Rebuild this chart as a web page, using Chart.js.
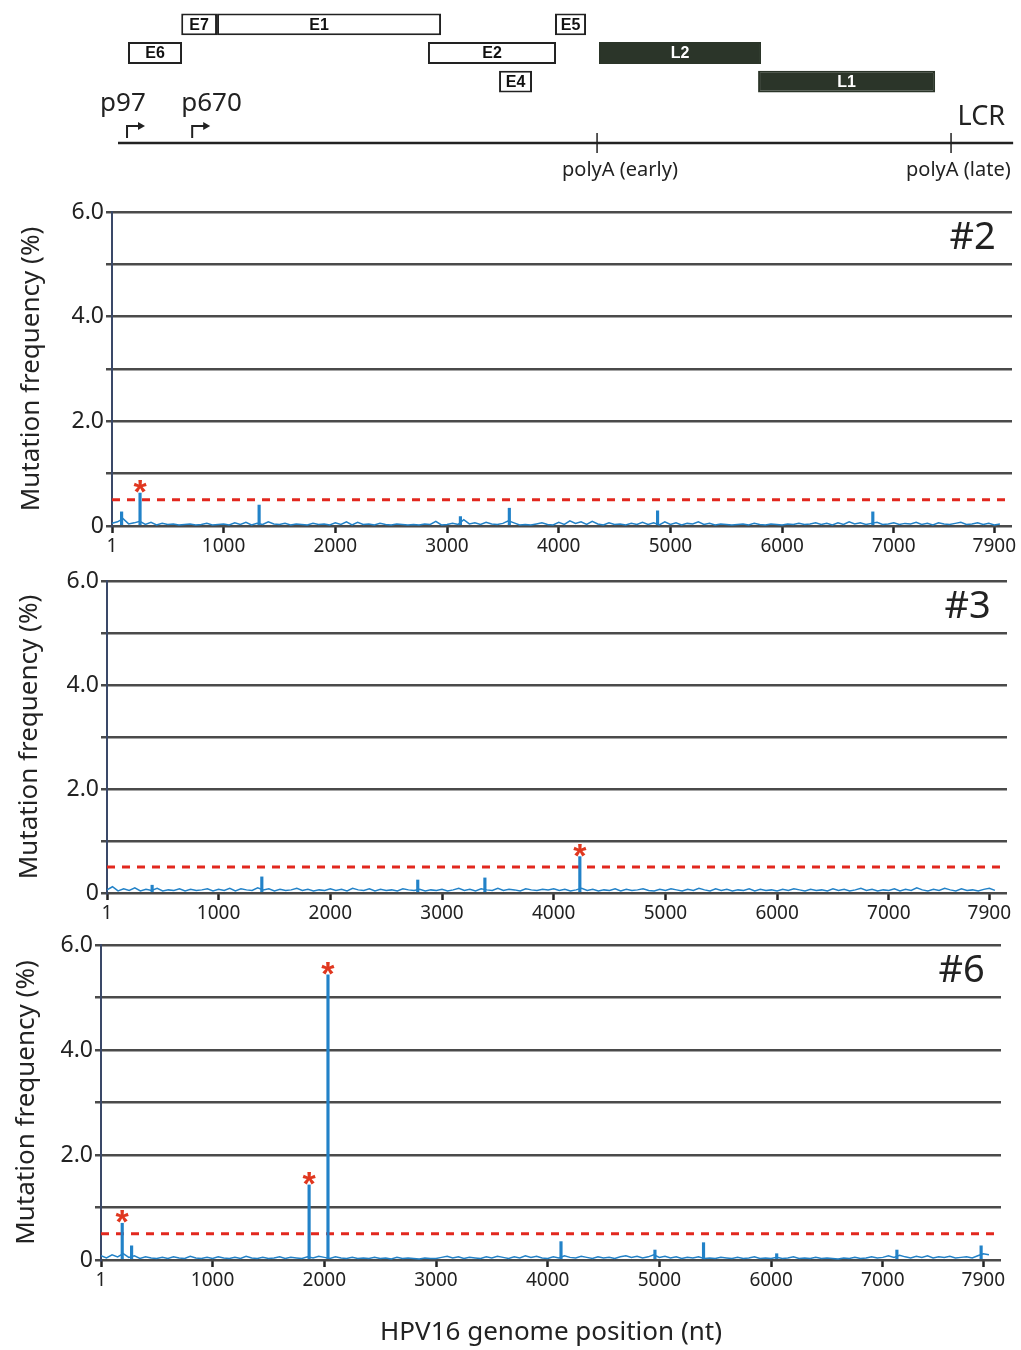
<!doctype html>
<html>
<head>
<meta charset="utf-8">
<title>HPV16 genome mutation frequency</title>
<script src="https://cdn.jsdelivr.net/npm/chart.js"></script>
<style>
  body { margin: 0; background: #fff; }
  #wrap { position: relative; width: 1021px; height: 1350px; overflow: hidden; }
  canvas { position: absolute; left: 0; }
</style>
</head>
<body>
<div id="wrap">
  <canvas id="map" width="1021" height="190" style="top:0"></canvas>
  <canvas id="p2" width="1021"></canvas>
  <canvas id="p3" width="1021"></canvas>
  <canvas id="p6" width="1021"></canvas>
</div>
<script>
// genome map (nt)
const geneNames = ['E6', 'E7', 'E1', 'E2', 'E4', 'E5', 'L2', 'L1']
const geneStart = [88, 556, 871, 2726, 3351, 3843, 4230, 5629]
const geneEnd = [563, 871, 2841, 3852, 3641, 4116, 5655, 7186]
const geneRow = [1, 0, 0, 1, 2, 0, 1, 2]
const geneLate = [false, false, false, false, false, false, true, true]
const promoterNames = ['p97', 'p670']
const promoterPos = [97, 670]
const polyAPos = [4213, 7326]
const polyALabels = ['polyA (early)', 'polyA (late)']

// x ticks of the frequency panels
const xTicks = [1, 1000, 2000, 3000, 4000, 5000, 6000, 7000, 7900]
const threshold = 0.5
const noiseStep = 50

// sample #2 (background, one value per 50 nt)
const noise2 = [
  0.05, 0.08, 0.14, 0.04, 0.06, 0.09, 0.03, 0.07, 0.02, 0.05, 0.03, 0.04, 0.02, 0.03, 0.04, 0.02, 0.03, 0.05, 0.02, 0.03,
  0.04, 0.02, 0.06, 0.03, 0.07, 0.02, 0.05, 0.03, 0.08, 0.04, 0.03, 0.05, 0.02, 0.04, 0.03, 0.02, 0.05, 0.03, 0.04, 0.02,
  0.06, 0.03, 0.08, 0.02, 0.07, 0.03, 0.04, 0.02, 0.05, 0.03, 0.02, 0.04, 0.03, 0.02, 0.03, 0.02, 0.04, 0.03, 0.09, 0.02,
  0.03, 0.05, 0.03, 0.12, 0.04, 0.06, 0.03, 0.07, 0.04, 0.03, 0.05, 0.10, 0.06, 0.02, 0.03, 0.02, 0.04, 0.06, 0.03, 0.02,
  0.07, 0.03, 0.10, 0.05, 0.08, 0.03, 0.09, 0.04, 0.02, 0.06, 0.03, 0.04, 0.02, 0.05, 0.03, 0.07, 0.03, 0.06, 0.02, 0.08,
  0.03, 0.06, 0.02, 0.05, 0.04, 0.08, 0.03, 0.05, 0.02, 0.04, 0.03, 0.02, 0.03, 0.04, 0.02, 0.05, 0.03, 0.02, 0.04, 0.03,
  0.02, 0.04, 0.03, 0.05, 0.03, 0.04, 0.06, 0.03, 0.05, 0.02, 0.06, 0.03, 0.08, 0.04, 0.06, 0.03, 0.05, 0.07, 0.03, 0.04,
  0.06, 0.03, 0.05, 0.04, 0.07, 0.03, 0.05, 0.02, 0.06, 0.04, 0.03, 0.05, 0.07, 0.03, 0.04, 0.06, 0.03, 0.05, 0.02, 0.04,
]
const spikePos2 = [87, 252, 1318, 3120, 3558, 4885, 6812]
const spikeVal2 = [0.27, 0.63, 0.40, 0.18, 0.34, 0.29, 0.27]
const stars2 = [252]

// sample #3
const noise3 = [
  0.06, 0.12, 0.04, 0.08, 0.05, 0.10, 0.04, 0.07, 0.05, 0.09, 0.04, 0.06, 0.05, 0.08, 0.04, 0.07, 0.05, 0.06, 0.08, 0.04,
  0.07, 0.05, 0.09, 0.04, 0.08, 0.06, 0.05, 0.10, 0.06, 0.08, 0.04, 0.07, 0.05, 0.06, 0.09, 0.05, 0.07, 0.04, 0.06, 0.05,
  0.08, 0.05, 0.07, 0.04, 0.09, 0.06, 0.05, 0.08, 0.04, 0.07, 0.05, 0.06, 0.04, 0.08, 0.06, 0.05, 0.07, 0.04, 0.06, 0.05,
  0.07, 0.04, 0.06, 0.09, 0.05, 0.07, 0.04, 0.08, 0.06, 0.05, 0.09, 0.05, 0.07, 0.06, 0.04, 0.08, 0.06, 0.05, 0.07, 0.06,
  0.08, 0.05, 0.07, 0.04, 0.06, 0.09, 0.05, 0.07, 0.04, 0.06, 0.05, 0.08, 0.04, 0.07, 0.05, 0.06, 0.08, 0.05, 0.04, 0.07,
  0.05, 0.08, 0.06, 0.04, 0.07, 0.05, 0.09, 0.06, 0.04, 0.08, 0.05, 0.07, 0.04, 0.06, 0.05, 0.08, 0.04, 0.07, 0.05, 0.06,
  0.04, 0.07, 0.05, 0.08, 0.06, 0.04, 0.07, 0.05, 0.06, 0.04, 0.08, 0.05, 0.07, 0.04, 0.06, 0.09, 0.05, 0.07, 0.04, 0.06,
  0.05, 0.08, 0.04, 0.07, 0.05, 0.10, 0.06, 0.04, 0.07, 0.05, 0.09, 0.06, 0.04, 0.08, 0.05, 0.06, 0.04, 0.07, 0.09, 0.05,
]
const spikePos3 = [405, 1387, 2783, 3384, 4234]
const spikeVal3 = [0.15, 0.31, 0.25, 0.29, 0.70]
const stars3 = [4234]

// sample #6
const noise6 = [
  0.08, 0.04, 0.10, 0.06, 0.12, 0.05, 0.08, 0.03, 0.06, 0.04, 0.03, 0.05, 0.03, 0.06, 0.04, 0.03, 0.07, 0.04, 0.03, 0.05,
  0.03, 0.06, 0.04, 0.03, 0.05, 0.03, 0.07, 0.04, 0.03, 0.05, 0.03, 0.04, 0.06, 0.03, 0.05, 0.04, 0.03, 0.06, 0.04, 0.07,
  0.05, 0.03, 0.06, 0.04, 0.03, 0.05, 0.03, 0.04, 0.03, 0.05, 0.03, 0.04, 0.02, 0.05, 0.03, 0.04, 0.03, 0.02, 0.04, 0.03,
  0.03, 0.05, 0.07, 0.04, 0.06, 0.03, 0.05, 0.04, 0.03, 0.06, 0.04, 0.07, 0.05, 0.03, 0.06, 0.04, 0.08, 0.05, 0.07, 0.04,
  0.03, 0.06, 0.04, 0.08, 0.05, 0.04, 0.07, 0.05, 0.03, 0.06, 0.04, 0.05, 0.03, 0.06, 0.08, 0.05, 0.07, 0.04, 0.06, 0.10,
  0.05, 0.07, 0.04, 0.06, 0.03, 0.05, 0.04, 0.06, 0.03, 0.04, 0.03, 0.05, 0.04, 0.03, 0.05, 0.03, 0.04, 0.06, 0.03, 0.04,
  0.03, 0.05, 0.03, 0.04, 0.06, 0.03, 0.04, 0.03, 0.05, 0.03, 0.04, 0.03, 0.02, 0.04, 0.03, 0.05, 0.03, 0.04, 0.06, 0.04,
  0.05, 0.08, 0.05, 0.09, 0.06, 0.04, 0.07, 0.05, 0.08, 0.04, 0.06, 0.05, 0.07, 0.04, 0.05, 0.06, 0.04, 0.08, 0.12, 0.10,
]
const spikePos6 = [191, 275, 1864, 2033, 4119, 4960, 5395, 6050, 7126, 7880]
const spikeVal6 = [0.70, 0.27, 1.43, 5.43, 0.35, 0.19, 0.33, 0.12, 0.19, 0.27]
const stars6 = [191, 1864, 2033]

const FONT = "'Noto Sans', 'Open Sans', sans-serif"
const INK = '#222'
const BLUE = '#2282c8'
const RED = '#e2281e'

Chart.defaults.font.family = FONT
Chart.defaults.color = INK
Chart.defaults.devicePixelRatio = 1

// ---------- genome map ----------
const mapDecor = {
  id: 'mapDecor',
  afterDatasetsDraw(chart) {
    const { ctx } = chart
    const x = chart.scales.x
    ctx.save()
    ctx.textAlign = 'center'
    ctx.textBaseline = 'middle'
    ctx.font = "bold 16px 'Liberation Sans', Arial, sans-serif"
    chart.data.datasets.forEach((ds, i) => {
      const el = chart.getDatasetMeta(i).data[geneRow[i]]
      const c = el.getCenterPoint()
      ctx.fillStyle = geneLate[i] ? '#fff' : '#111'
      // E1 label sits a bit left of centre in the original
      ctx.fillText(geneNames[i], c.x - (geneNames[i] === 'E1' ? 10 : 0), c.y + 1)
    })

    // genome line
    const ly = 143
    ctx.strokeStyle = INK
    ctx.lineWidth = 2.5
    ctx.beginPath()
    ctx.moveTo(x.getPixelForValue(0), ly)
    ctx.lineTo(x.getPixelForValue(7872), ly)
    ctx.stroke()

    // polyA sites
    ctx.lineWidth = 1.5
    ctx.font = '20px ' + FONT
    ctx.fillStyle = INK
    polyAPos.forEach((p, i) => {
      const px = x.getPixelForValue(p)
      ctx.beginPath()
      ctx.moveTo(px, ly - 10)
      ctx.lineTo(px, ly + 10)
      ctx.stroke()
      ctx.textAlign = 'left'
      ctx.fillText(polyALabels[i], px - (i === 0 ? 35 : 45), 170)
    })

    // promoters
    ctx.font = '26px ' + FONT
    promoterPos.forEach((p, i) => {
      const px = x.getPixelForValue(p) - 2
      ctx.textAlign = 'left'
      ctx.fillText(promoterNames[i], px - (i === 0 ? 27 : 11), 104)
      ctx.lineWidth = 2
      ctx.beginPath()
      ctx.moveTo(px, 138)
      ctx.lineTo(px, 126)
      ctx.lineTo(px + 13, 126)
      ctx.stroke()
      ctx.beginPath()
      ctx.moveTo(px + 18, 126)
      ctx.lineTo(px + 11, 122)
      ctx.lineTo(px + 11, 130)
      ctx.closePath()
      ctx.fill()
    })

    ctx.font = '27px ' + FONT
    ctx.textAlign = 'right'
    ctx.fillText('LCR', 1005, 117)
    ctx.restore()
  },
}

new Chart(document.getElementById('map'), {
  type: 'bar',
  data: {
    labels: ['r1', 'r2', 'r3'],
    datasets: geneNames.map((g, i) => ({
      label: g,
      data: [0, 1, 2].map((r) => (r === geneRow[i] ? [geneStart[i], geneEnd[i]] : null)),
      backgroundColor: geneLate[i] ? '#2b3529' : '#fff',
      borderColor: geneLate[i] ? '#2b3529' : '#222',
      borderWidth: 2,
      borderSkipped: false,
      grouped: false,
      barPercentage: 0.76,
      categoryPercentage: 1,
    })),
  },
  options: {
    indexAxis: 'y',
    responsive: false,
    animation: false,
    layout: { padding: { left: 118, right: 4, top: 10, bottom: 94 } },
    plugins: { legend: { display: false }, tooltip: { enabled: false } },
    scales: {
      x: { type: 'linear', min: 0, max: 7906, display: false },
      y: { display: false },
    },
  },
  plugins: [mapDecor],
})

// ---------- frequency panels ----------
const panelDecor = {
  id: 'panelDecor',
  afterDatasetsDraw(chart, args, opts) {
    const { ctx } = chart
    const { x, y } = chart.scales
    ctx.save()
    ctx.textAlign = 'center'
    ctx.fillStyle = '#e0371f'
    ctx.font = "bold 34px 'Liberation Sans', Arial, sans-serif"
    ctx.textBaseline = 'alphabetic'
    opts.stars.forEach((p) => {
      const v = opts.spikeVal[opts.spikePos.indexOf(p)]
      ctx.fillText('*', x.getPixelForValue(p), y.getPixelForValue(v) + 10)
    })
    ctx.fillStyle = INK
    ctx.font = '38px ' + FONT
    ctx.textBaseline = 'middle'
    ctx.fillText(opts.label, x.getPixelForValue(7705), y.getPixelForValue(5.5))
    ctx.restore()
  },
}

const panels = [
  { id: 'p2', label: '#2', noise: noise2, spikePos: spikePos2, spikeVal: spikeVal2, stars: stars2,
    left: 112, right: 1012, top: 212, bottom: 526, titleX: 32, axisH: 34 },
  { id: 'p3', label: '#3', noise: noise3, spikePos: spikePos3, spikeVal: spikeVal3, stars: stars3,
    left: 107, right: 1007, top: 581, bottom: 893, titleX: 30, axisH: 34 },
  { id: 'p6', label: '#6', noise: noise6, spikePos: spikePos6, spikeVal: spikeVal6, stars: stars6,
    left: 101, right: 1001, top: 945, bottom: 1260, titleX: 27, axisH: 90, xTitle: true },
]

panels.forEach((p) => {
  const cv = document.getElementById(p.id)
  const top = p.top - 32
  cv.height = p.bottom + p.axisH - top
  cv.style.top = top + 'px'

  new Chart(cv, {
    type: 'line',
    data: {
      datasets: [
        {
          type: 'line',
          data: [{ x: 1, y: threshold }, { x: 8058, y: threshold }],
          borderColor: RED,
          borderWidth: 3,
          borderDash: [8, 7],
          pointRadius: 0,
          order: 3,
        },
        {
          type: 'line',
          data: p.noise.map((v, i) => ({ x: i === 0 ? 1 : i * noiseStep, y: v })),
          borderColor: BLUE,
          borderWidth: 1.5,
          pointRadius: 0,
          tension: 0,
          order: 2,
        },
        {
          type: 'bar',
          data: p.spikePos.map((s, i) => ({ x: s, y: p.spikeVal[i] })),
          backgroundColor: BLUE,
          barThickness: 2.5,
          order: 1,
        },
      ],
    },
    options: {
      responsive: false,
      animation: false,
      layout: { padding: { left: 0, right: 1021 - p.right, top: 32, bottom: 0 } },
      plugins: {
        legend: { display: false },
        tooltip: { enabled: false },
        panelDecor: { label: p.label, stars: p.stars, spikePos: p.spikePos, spikeVal: p.spikeVal },
      },
      scales: {
        x: {
          type: 'linear',
          min: 1,
          max: 8058,
          offset: false,
          afterBuildTicks: (s) => { s.ticks = xTicks.map((v) => ({ value: v })) },
          afterFit: (s) => { s.height = p.axisH },
          ticks: { autoSkip: false, maxRotation: 0, padding: 2, font: { size: 19 }, color: INK,
            callback: (v) => String(v) },
          grid: { offset: false, drawOnChartArea: false, drawTicks: true, tickLength: 7, tickWidth: 2.5, tickColor: INK },
          border: { display: false },
          title: {
            display: !!p.xTitle,
            text: 'HPV16 genome position (nt)',
            font: { size: 26 },
            color: INK,
            padding: { top: 0, bottom: 2 },
          },
        },
        y: {
          min: 0,
          max: 6,
          afterFit: (s) => { s.width = p.left },
          ticks: {
            stepSize: 1,
            padding: 2,
            font: { size: 23 },
            color: INK,
            callback: (v) => (v % 2 === 0 ? (v === 0 ? '0' : v.toFixed(1)) : ''),
          },
          grid: { color: '#4a4a4a', lineWidth: 2.5, tickLength: 6, tickColor: '#4a4a4a' },
          border: { display: true, color: '#3a4868', width: 2 },
          title: {
            display: true,
            text: 'Mutation frequency (%)',
            font: { size: 26 },
            color: INK,
            padding: { top: p.titleX - 15.6, bottom: 0 },
          },
        },
      },
    },
    plugins: [panelDecor],
  })
})
</script>
</body>
</html>
